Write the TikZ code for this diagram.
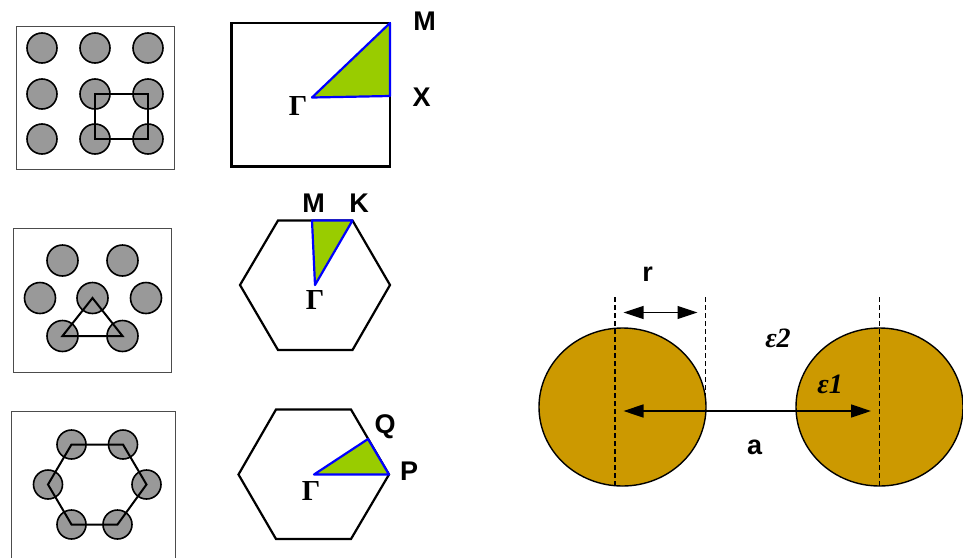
\documentclass[tikz,border=0pt]{standalone}
\usepackage{fontspec}
\setmainfont{Liberation Sans}
\newfontfamily\serifbf{Liberation Serif}
\usetikzlibrary{arrows.meta,shapes.geometric}
\tikzset{
  panel/.style={draw=black!70,line width=1pt},
  atom/.style={circle,draw=black,fill=black!40,line width=1.6pt,inner sep=0pt,minimum size=#1},
  atom/.default=30pt,
  cell/.style={draw=black,line width=2pt,line join=miter},
  zone/.style={draw=black,line width=2.2pt,line join=miter},
  wedge/.style={draw=blue,fill=wedgegreen,line width=2.2pt,line join=round},
  lab/.style={font=\fontsize{27}{29}\selectfont\bfseries,inner sep=0pt},
  gam/.style={font=\serifbf\fontsize{29}{31}\selectfont\bfseries,inner sep=0pt},
  eps/.style={font=\serifbf\fontsize{28}{30}\selectfont\bfseries\itshape,inner sep=0pt},
  rod/.style={ellipse,draw=black,fill=rodgold,line width=1.4pt,inner sep=0pt,minimum width=167pt,minimum height=158pt},
  guide/.style={draw=black,line width=1.5pt,dash pattern=on 5pt off 3pt},
  span/.style={draw=black,line width=1.5pt,{Triangle[length=20pt,width=13pt]}-{Triangle[length=20pt,width=13pt]}},
}
\definecolor{wedgegreen}{HTML}{99CC00}
\definecolor{rodgold}{HTML}{CC9900}
\begin{document}
\begin{tikzpicture}[x=1pt,y=-1pt]
\useasboundingbox (0,0) rectangle (963,557);
% Square lattice
\draw[panel] (16,26) rectangle (174,169);
\foreach \n/\x/\y in {a/42/48,b/95/48,c/148/48,d/42/94,e/95/94,f/148/94,g/42/139,h/95/139,i/148/139}
  \node[atom] (s\n) at (\x,\y) {};
\draw[cell] (se.center) -- (sf.center) -- (si.center) -- (sh.center) -- cycle;
% Square zone
\draw[zone] (231.5,23) rectangle (390,166.5);
\coordinate (sG) at (312,97.5);
\coordinate (sM) at (390,23);
\coordinate (sX) at (390,96);
\draw[wedge] (sG) -- (sM) -- (sX) -- cycle;
\node[gam] at (298,106) {Γ};
\node[lab] at (424.5,21) {M};
\node[lab] at (421.5,97) {X};
% Triangular lattice
\draw[panel] (13.5,228.5) rectangle (171.5,372);
\foreach \n/\x/\y in {a/62.5/260.5,b/122.5/260.5,c/40/298,d/92.5/298,e/146/298,f/62.5/336,g/122.5/336}
  \node[atom=31pt] (t\n) at (\x,\y) {};
\draw[cell] (td.center) -- (tf.center) -- (tg.center) -- cycle;
% Hexagonal zone
\draw[zone] (240,285) -- (278,220.5) -- (352.5,220.5) -- (390,285) -- (352.5,350) -- (278,350) -- cycle;
\coordinate (tM) at (312,220.5);
\coordinate (tK) at (352.5,220.5);
\coordinate (tG) at (315,285);
\draw[wedge] (tM) -- (tK) -- (tG) -- cycle;
\node[gam] at (315,300) {Γ};
\node[lab] at (313.5,203) {M};
\node[lab] at (359,203) {K};
% Honeycomb lattice
\draw[panel] (11,411.5) rectangle (175,560);
\foreach \n/\x/\y in {a/71.5/444.5,b/123/444.5,c/146.5/484.5,d/117.5/524.5,e/71.5/524.5,f/48/484.5}
  \node[atom=29pt] (h\n) at (\x,\y) {};
\draw[cell] (ha.center) -- (hb.center) -- (hc.center) -- (hd.center) -- (he.center) -- (hf.center) -- cycle;
% Hexagonal zone, rotated wedge
\draw[zone] (238.5,474.5) -- (276,409.5) -- (351,409.5) -- (389,474.5) -- (351,539) -- (276,539) -- cycle;
\coordinate (hG) at (314,474.5);
\coordinate (hQ) at (368,439);
\coordinate (hP) at (389,474.5);
\draw[wedge] (hG) -- (hQ) -- (hP) -- cycle;
\node[gam] at (311,491) {Γ};
\node[lab] at (385,427) {Q};
\node[lab] at (409,471) {P};
% Rods
\node[rod] (r1) at (622.5,407) {};
\node[rod] (r2) at (879.5,407) {};
\coordinate (g1t) at (615,297); \coordinate (g1b) at (615,486);
\coordinate (g2t) at (705.7,297); \coordinate (g2b) at (705.7,395);
\coordinate (g3t) at (879.7,297); \coordinate (g3b) at (879.7,486);
\draw[guide] (g1t) -- (g1b);
\draw[guide] (g2t) -- (g2b);
\draw[guide] (g3t) -- (g3b);
\coordinate (ra) at (623.5,312.5); \coordinate (rb) at (697.5,312.5);
\coordinate (aa) at (623.5,411); \coordinate (ab) at (871,411);
\draw[span,line width=1.1pt] (ra) -- (rb);
\draw[span] (aa) -- (ab);
\node[lab] at (647.5,274) {r};
\node[lab] at (754.5,447) {a};
\node[eps] at (778,338) {ε2};
\node[eps] at (830,384) {ε1};
\end{tikzpicture}
\end{document}
